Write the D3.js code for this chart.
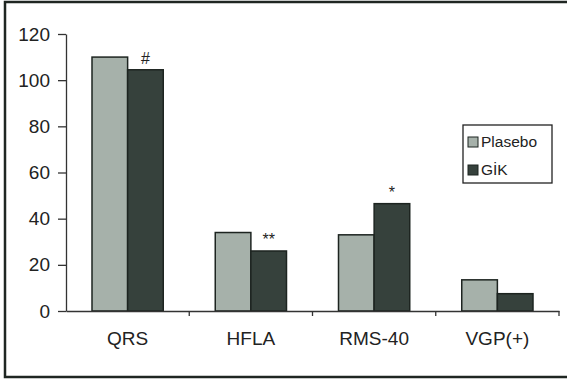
<!DOCTYPE html>
<html lang="tr">
<head>
  <meta charset="UTF-8">
  <title>QRS HFLA RMS-40 VGP</title>
  <script src="https://cdn.jsdelivr.net/npm/d3@7"></script>
  <style>
    body { margin: 0; background: #fff; }
    svg { display: block; font-family: "Liberation Sans", Arial, sans-serif; }
  </style>
</head>
<body>
  <div id="chart"></div>
  <script>
    const width = 567;
    const height = 380;

    // data
    const categories = ['QRS', 'HFLA', 'RMS-40', 'VGP(+)'];
    const seriesNames = ['Plasebo', 'GİK'];
    const plasebo = [110, 34, 33, 13.5];
    const gik = [104.5, 26, 46.5, 7.5];
    const marks = ['#', '**', '*', ''];   // significance marks over GİK bars
    const yTicks = [0, 20, 40, 60, 80, 100, 120];

    const colors = ['#a6b1aa', '#36413c'];

    const svg = d3.select('#chart').append('svg')
      .attr('width', width)
      .attr('height', height);

    // outer frame
    svg.append('rect')
      .attr('x', 5).attr('y', 2)
      .attr('width', width + 10).attr('height', 375)
      .attr('fill', 'none')
      .attr('stroke', '#1f2622')
      .attr('stroke-width', 2.5);

    const x0 = d3.scaleBand()
      .domain(categories)
      .range([66, 559])
      .paddingInner(0)
      .paddingOuter(0);

    const x1 = d3.scaleBand()
      .domain(seriesNames)
      .range([0, x0.bandwidth()])
      .paddingOuter(0.73)
      .paddingInner(0);

    const y = d3.scaleLinear()
      .domain([0, 120])
      .range([311, 34]);

    // y axis
    const yAxis = svg.append('g')
      .attr('transform', 'translate(66,0)')
      .call(d3.axisLeft(y).tickValues(yTicks).tickSize(8).tickSizeOuter(0).tickPadding(8));
    yAxis.select('.domain').attr('stroke', '#333').attr('stroke-width', 1.3);
    yAxis.selectAll('.tick line').attr('stroke', '#333').attr('stroke-width', 1.3);
    yAxis.selectAll('.tick text')
      .attr('font-size', 19)
      .attr('fill', '#222')
      .style('font-family', '"Liberation Sans", Arial, sans-serif');

    // bars
    const data = categories.map(function (c, i) {
      return { cat: c, vals: [plasebo[i], gik[i]], mark: marks[i] };
    });

    const groups = svg.append('g')
      .selectAll('g')
      .data(data)
      .enter()
      .append('g')
      .attr('transform', function (d) { return 'translate(' + x0(d.cat) + ',0)'; });

    groups.selectAll('rect')
      .data(function (d) { return d.vals.map(function (v, j) { return { s: seriesNames[j], v: v, j: j }; }); })
      .enter()
      .append('rect')
      .attr('x', function (d) { return x1(d.s); })
      .attr('y', function (d) { return y(d.v); })
      .attr('width', x1.bandwidth())
      .attr('height', function (d) { return y(0) - y(d.v); })
      .attr('fill', function (d) { return colors[d.j]; })
      .attr('stroke', '#1d2420')
      .attr('stroke-width', 1.5);

    groups.append('text')
      .attr('x', function () { return x1('GİK') + x1.bandwidth() / 2; })
      .attr('y', function (d) { return y(d.vals[1]) - 6; })
      .attr('text-anchor', 'middle')
      .attr('font-size', 16)
      .attr('fill', '#222')
      .text(function (d) { return d.mark; });

    // x axis
    const xAxis = svg.append('g')
      .attr('transform', 'translate(0,' + y(0) + ')')
      .call(d3.axisBottom(x0).tickSize(0).tickSizeOuter(0).tickPadding(21));
    xAxis.select('.domain').attr('stroke', '#333').attr('stroke-width', 1.3);
    xAxis.selectAll('.tick text')
      .attr('font-size', 19)
      .attr('fill', '#222')
      .style('font-family', '"Liberation Sans", Arial, sans-serif');

    // small ticks between categories
    svg.append('g')
      .selectAll('line')
      .data(categories.slice(1).concat(['end']))
      .enter()
      .append('line')
      .attr('x1', function (d) { return d === 'end' ? x0.range()[1] : x0(d); })
      .attr('x2', function (d) { return d === 'end' ? x0.range()[1] : x0(d); })
      .attr('y1', y(0))
      .attr('y2', y(0) + 5)
      .attr('stroke', '#333')
      .attr('stroke-width', 1.3);

    // legend
    const legend = svg.append('g').attr('transform', 'translate(463,125)');
    legend.append('rect')
      .attr('width', 89).attr('height', 58)
      .attr('fill', '#fff')
      .attr('stroke', '#222')
      .attr('stroke-width', 1.3);
    seriesNames.forEach(function (name, i) {
      const row = legend.append('g').attr('transform', 'translate(5,' + (12 + i * 28) + ')');
      row.append('rect')
        .attr('width', 10).attr('height', 10)
        .attr('fill', colors[i])
        .attr('stroke', '#1d2420')
        .attr('stroke-width', 1);
      row.append('text')
        .attr('x', 13).attr('y', 10)
        .attr('font-size', 15.5)
        .attr('fill', '#222')
        .text(name);
    });
  </script>
</body>
</html>
